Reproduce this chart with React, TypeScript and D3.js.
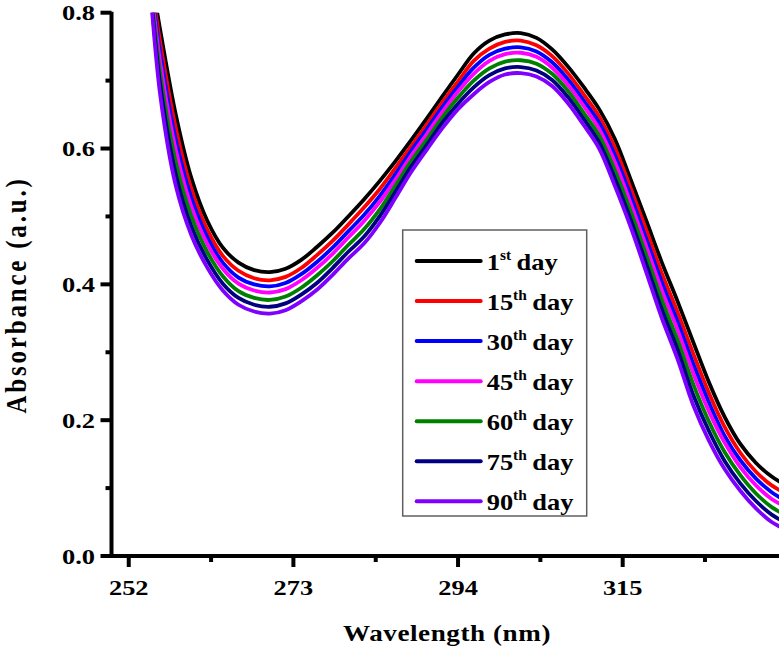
import React from "react";
import * as d3 from "d3";

const wavelengths = [252, 254, 256, 258, 260, 262, 264, 266, 268, 270, 272, 274, 276, 278, 280, 282, 284, 286, 288, 290, 292, 294, 296, 298, 300, 302, 304, 306, 308, 310, 312, 314, 316, 318, 320, 322, 324, 326, 328, 330, 332, 334, 336];

const day1 = [1.06, 0.910, 0.775, 0.650, 0.556, 0.494, 0.454, 0.432, 0.421, 0.418, 0.423, 0.436, 0.455, 0.476, 0.500, 0.525, 0.552, 0.581, 0.612, 0.644, 0.677, 0.709, 0.740, 0.759, 0.768, 0.770, 0.763, 0.746, 0.721, 0.691, 0.658, 0.614, 0.555, 0.494, 0.432, 0.375, 0.315, 0.256, 0.205, 0.165, 0.137, 0.117, 0.103];
const day15 = [1.07, 0.914, 0.757, 0.630, 0.540, 0.481, 0.442, 0.420, 0.409, 0.406, 0.411, 0.424, 0.443, 0.464, 0.488, 0.513, 0.540, 0.571, 0.603, 0.635, 0.668, 0.699, 0.729, 0.747, 0.757, 0.759, 0.752, 0.736, 0.711, 0.680, 0.647, 0.601, 0.542, 0.480, 0.416, 0.359, 0.298, 0.240, 0.190, 0.152, 0.124, 0.104, 0.091];
const day30 = [1.08, 0.917, 0.742, 0.613, 0.527, 0.470, 0.432, 0.410, 0.400, 0.397, 0.402, 0.415, 0.433, 0.454, 0.478, 0.502, 0.530, 0.562, 0.596, 0.628, 0.661, 0.691, 0.719, 0.738, 0.747, 0.749, 0.743, 0.727, 0.702, 0.671, 0.638, 0.590, 0.531, 0.467, 0.403, 0.345, 0.283, 0.226, 0.177, 0.141, 0.114, 0.094, 0.080];
const day45 = [1.09, 0.920, 0.728, 0.598, 0.514, 0.460, 0.423, 0.401, 0.391, 0.388, 0.393, 0.406, 0.424, 0.445, 0.469, 0.493, 0.521, 0.554, 0.589, 0.621, 0.654, 0.684, 0.710, 0.729, 0.739, 0.741, 0.735, 0.719, 0.694, 0.663, 0.629, 0.580, 0.520, 0.456, 0.391, 0.333, 0.269, 0.213, 0.167, 0.131, 0.104, 0.084, 0.071];
const day60 = [1.10, 0.923, 0.711, 0.580, 0.500, 0.448, 0.412, 0.390, 0.380, 0.377, 0.382, 0.395, 0.413, 0.434, 0.458, 0.481, 0.510, 0.545, 0.581, 0.613, 0.646, 0.675, 0.700, 0.718, 0.728, 0.730, 0.725, 0.710, 0.685, 0.653, 0.619, 0.568, 0.508, 0.443, 0.377, 0.318, 0.253, 0.198, 0.153, 0.119, 0.092, 0.072, 0.059];
const day75 = [1.11, 0.927, 0.695, 0.562, 0.485, 0.436, 0.401, 0.380, 0.370, 0.367, 0.372, 0.385, 0.402, 0.424, 0.448, 0.470, 0.500, 0.536, 0.573, 0.605, 0.638, 0.666, 0.690, 0.708, 0.718, 0.720, 0.715, 0.701, 0.676, 0.644, 0.609, 0.556, 0.496, 0.430, 0.363, 0.304, 0.237, 0.184, 0.140, 0.107, 0.081, 0.061, 0.048];
const day90 = [1.12, 0.930, 0.680, 0.545, 0.472, 0.425, 0.391, 0.370, 0.360, 0.357, 0.362, 0.375, 0.392, 0.414, 0.438, 0.460, 0.490, 0.527, 0.565, 0.598, 0.630, 0.658, 0.680, 0.698, 0.709, 0.711, 0.706, 0.692, 0.667, 0.635, 0.600, 0.545, 0.485, 0.418, 0.350, 0.290, 0.222, 0.170, 0.128, 0.096, 0.070, 0.050, 0.038];

const seriesValues = [day1, day15, day30, day45, day60, day75, day90];
const legendNumbers = ["1", "15", "30", "45", "60", "75", "90"];
const legendSuffixes = ["st", "th", "th", "th", "th", "th", "th"];
const seriesColors = ["#000000", "#ff0000", "#0000ff", "#ff00ff", "#008000", "#000080", "#7f00ff"];

const xMajorTicks = [252, 273, 294, 315];
const xMinorTicks = [262.5, 283.5, 304.5, 325.5];
const yMajorTicks = [0.0, 0.2, 0.4, 0.6, 0.8];
const yMinorTicks = [0.1, 0.3, 0.5, 0.7];

const FONT = "'Liberation Serif', 'Times New Roman', Times, serif";

export default function App() {
  const W = 779, H = 648;
  const left = 111.5, right = 779.5, top = 12.7, bottom = 556;
  const x = d3.scaleLinear().domain([249.8, 335]).range([left, right]);
  const y = d3.scaleLinear().domain([0, 0.8]).range([bottom, top]);
  const line = d3
    .line<number>()
    .x((_, i) => x(wavelengths[i]))
    .y((v) => y(v))
    .curve(d3.curveCatmullRom.alpha(0.5));

  const sx = 1.2;
  const legX = 402.7, legY = 230, legW = 184, legH = 286;
  const rowY0 = 261, rowStep = 40.05;

  return (
    <svg width={W} height={H} style={{ position: "absolute", left: 0, top: 0, background: "#fff" }}>
      <defs>
        <clipPath id="plotClip">
          <rect x={left} y={top} width={right - left + 5} height={bottom - top} />
        </clipPath>
      </defs>
      <rect x={0} y={0} width={W} height={H} fill="#fff" />

      <g clipPath="url(#plotClip)">
        {seriesValues.map((vals, k) => (
          <path key={k} d={line(vals) || ""} fill="none" stroke={seriesColors[k]} strokeWidth={3.8} strokeLinejoin="round" />
        ))}
      </g>

      {/* axes */}
      <line x1={left} y1={top - 1} x2={left} y2={bottom + 2} stroke="#000" strokeWidth={4} />
      <line x1={left - 2} y1={bottom} x2={W} y2={bottom} stroke="#000" strokeWidth={4} />

      {yMajorTicks.map((t) => (
        <g key={"ym" + t}>
          <line x1={left - 11} x2={left} y1={y(t)} y2={y(t)} stroke="#000" strokeWidth={4} />
          <text
            transform={`translate(${95},${y(t) + 7.5}) scale(${sx},1)`}
            textAnchor="end"
            style={{ fontFamily: FONT }}
            fontWeight="bold"
            fontSize={22}
            fill="#000"
          >
            {d3.format(".1f")(t)}
          </text>
        </g>
      ))}
      {yMinorTicks.map((t) => (
        <line key={"yn" + t} x1={left - 6} x2={left} y1={y(t)} y2={y(t)} stroke="#000" strokeWidth={4} />
      ))}
      {xMajorTicks.map((t) => (
        <g key={"xm" + t}>
          <line x1={x(t)} x2={x(t)} y1={bottom} y2={bottom + 11} stroke="#000" strokeWidth={4} />
          <text
            transform={`translate(${x(t)},${595}) scale(${sx},1)`}
            textAnchor="middle"
            style={{ fontFamily: FONT }}
            fontWeight="bold"
            fontSize={22}
            fill="#000"
          >
            {t}
          </text>
        </g>
      ))}
      {xMinorTicks.map((t) => (
        <line key={"xn" + t} x1={x(t)} x2={x(t)} y1={bottom} y2={bottom + 6} stroke="#000" strokeWidth={4} />
      ))}

      {/* axis titles */}
      <text
        transform={`translate(${447},${641}) scale(1.13,1)`}
        textAnchor="middle"
        style={{ fontFamily: FONT }}
        fontWeight="bold"
        fontSize={24}
        letterSpacing={0.5}
        fill="#000"
      >
        Wavelength (nm)
      </text>
      <text
        transform={`translate(${26},${295}) rotate(-90) scale(1,1.15)`}
        textAnchor="middle"
        style={{ fontFamily: FONT }}
        fontWeight="bold"
        fontSize={25}
        letterSpacing={2.8}
        fill="#000"
      >
        Absorbance (a.u.)
      </text>

      {/* legend */}
      <rect x={legX} y={legY} width={legW} height={legH} fill="#fff" stroke="#606060" strokeWidth={1.5} />
      {legendNumbers.map((n, k) => {
        const ry = rowY0 + k * rowStep;
        return (
          <g key={"lg" + k}>
            <line x1={416.7} x2={480.7} y1={ry} y2={ry} stroke={seriesColors[k]} strokeWidth={4} strokeLinecap="round" />
            <text
              transform={`translate(${486.7},${ry + 9}) scale(1.1,1)`}
              style={{ fontFamily: FONT }}
              fontWeight="bold"
              fontSize={24}
              fill="#000"
            >
              <tspan>{n}</tspan>
              <tspan dy={-10} fontSize={14}>{legendSuffixes[k]}</tspan>
              <tspan dy={10} dx={5}>day</tspan>
            </text>
          </g>
        );
      })}
    </svg>
  );
}
